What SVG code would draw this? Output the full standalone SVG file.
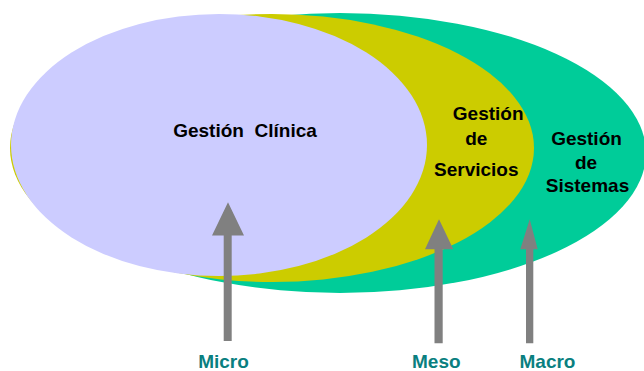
<svg xmlns="http://www.w3.org/2000/svg" width="644" height="371" viewBox="0 0 644 371">
<style>
.t{font-family:"Liberation Sans",Arial,sans-serif;font-weight:bold;font-size:19px;fill:#000;text-anchor:middle}
.lbl{font-family:"Liberation Sans",Arial,sans-serif;font-weight:bold;font-size:19px;fill:#0a7f80;text-anchor:middle}
.arr{fill:#808080}
</style>
<rect width="644" height="371" fill="#fff"/>
<g id="sistemas">
<ellipse cx="340" cy="153" rx="306" ry="140" fill="#00cc99"/>
<text class="t" x="586.5" y="145">Gestión</text>
<text class="t" x="586" y="168.5">de</text>
<text class="t" x="587.5" y="192">Sistemas</text>
</g>
<g id="servicios">
<ellipse cx="272" cy="148" rx="262" ry="134" fill="#cccc00"/>
<text class="t" x="488.2" y="120">Gestión</text>
<text class="t" x="476.3" y="145">de</text>
<text class="t" x="476.3" y="175.5">Servicios</text>
</g>
<g id="clinica">
<ellipse cx="219" cy="145" rx="208" ry="131" fill="#ccccff"/>
<text class="t" x="245" y="137.3" xml:space="preserve">Gestión  Clínica</text>
</g>
<g id="connectors">
<path class="arr" d="M223.7 341V235.5H212L228 202.3L244 235.5H231.7V341Z"/>
<path class="arr" d="M434.5 343.3V249.3H425L439 219.3L453.3 249.3H442.7V343.3Z"/>
<path class="arr" d="M526 343.3V249.3H520.3L529.7 219.3L537.7 249.3H533.3V343.3Z"/>
</g>
<g id="micro"><text class="lbl" x="223.5" y="368.3">Micro</text></g>
<g id="meso"><text class="lbl" x="436.3" y="368.3">Meso</text></g>
<g id="macro"><text class="lbl" x="547.5" y="368.3">Macro</text></g>
</svg>
